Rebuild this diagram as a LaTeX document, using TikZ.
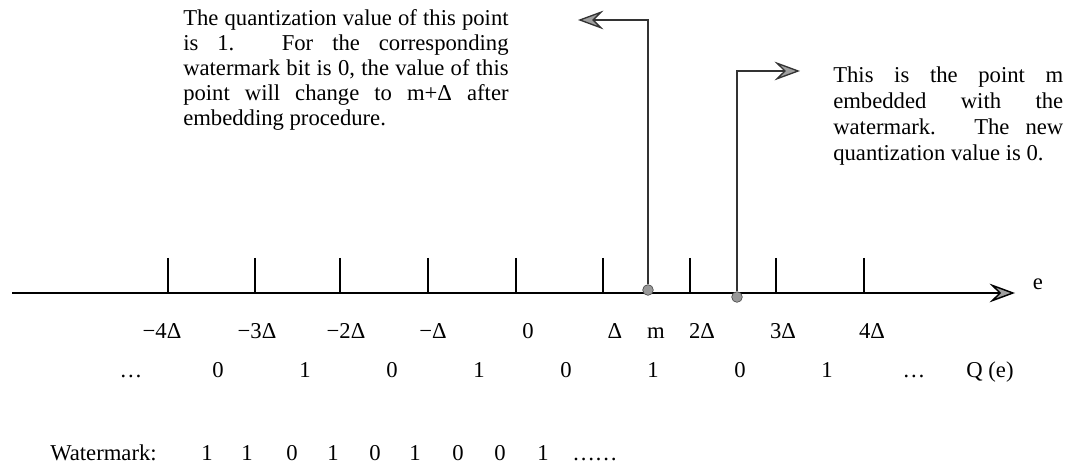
\documentclass[tikz,border=0pt]{standalone}
\usepackage{fontspec}
\setmainfont{Liberation Serif}
\usetikzlibrary{arrows.meta}
\begin{document}
\begin{tikzpicture}[x=0.75pt,y=-0.75pt,
  font=\fontsize{17}{18.75}\selectfont,
  tip/.style={-{Stealth[length=19pt,width=14pt,inset=7pt,fill=gray!75]}},
  axisline/.style={line width=1.1pt, tip},
  tickline/.style={line width=0.8pt},
  conn/.style={line width=1pt, black!80, tip},
  dot/.style={circle, fill=gray!80, draw=black!70, line width=0.5pt, inner sep=0pt, minimum size=8pt},
  lbl/.style={anchor=base, inner sep=0pt},
  txt/.style={anchor=north west, align=left, inner sep=0pt}]
\useasboundingbox (0,0) rectangle (1067,470);

% axis
\coordinate (a0) at (12,293);
\coordinate (a1) at (1015,293);
\draw[axisline] (a0) -- (a1);
\node[lbl] (e) at (1038,290) {e};

% ticks
\foreach \x in {168,255,340,428,516,603,690,776,864}
  \draw[tickline] (\x,258) -- (\x,293);

% tick labels
\node[lbl] (l1) at (162,338) {−4Δ};
\node[lbl] (l2) at (257,338) {−3Δ};
\node[lbl] (l3) at (346,338) {−2Δ};
\node[lbl] (l4) at (433,338) {−Δ};
\node[lbl] (l5) at (528,338) {0};
\node[lbl] (l6) at (615,338) {Δ};
\node[lbl] (l7) at (656,338) {m};
\node[lbl] (l8) at (702,338) {2Δ};
\node[lbl] (l9) at (783,338) {3Δ};
\node[lbl] (l10) at (872,338) {4Δ};

% quantization values
\node[lbl] (q0) at (131,377) {…};
\node[lbl] (q1) at (218,377) {0};
\node[lbl] (q2) at (305,377) {1};
\node[lbl] (q3) at (392,377) {0};
\node[lbl] (q4) at (479,377) {1};
\node[lbl] (q5) at (566,377) {0};
\node[lbl] (q6) at (653,377) {1};
\node[lbl] (q7) at (740,377) {0};
\node[lbl] (q8) at (827,377) {1};
\node[lbl] (q9) at (914,377) {…};
\node[lbl] (qe) at (990,377) {Q (e)};

% watermark row
\node[anchor=base west, inner sep=0pt] (wm) at (50,460) {Watermark:};
\foreach \x/\b [count=\i] in {207/1,247/1,292/0,333/1,375/0,415/1,458/0,500/0,543/1}
  \node[lbl] (w\i) at (\x,460) {\b};
\node[anchor=base west, inner sep=0pt] (wdots) at (572,460) {……};

% points
\node[dot] (m) at (648,290) {};
\node[dot] (mw) at (737,297) {};
\coordinate (lt) at (578,20);
\coordinate (rt) at (800,71);
\draw[conn] (m) |- (lt);
\draw[conn] (mw) |- (rt);

% left annotation
\node[txt] (ltext) at (183,9) {%
\makebox[244pt][s]{The quantization value of this point}\\
\makebox[244pt][s]{is 1. For the corresponding}\\
\makebox[244pt][s]{watermark bit is 0, the value of this}\\
\makebox[244pt][s]{point will change to m+Δ after}\\
embedding procedure.};

% right annotation
\node[txt, font=\fontsize{17}{19.5}\selectfont] (rtext) at (833,67) {%
\makebox[172.5pt][s]{This is the point m}\\
\makebox[172.5pt][s]{embedded with the}\\
\makebox[172.5pt][s]{watermark. The new}\\
quantization value is 0.};
\end{tikzpicture}
\end{document}
